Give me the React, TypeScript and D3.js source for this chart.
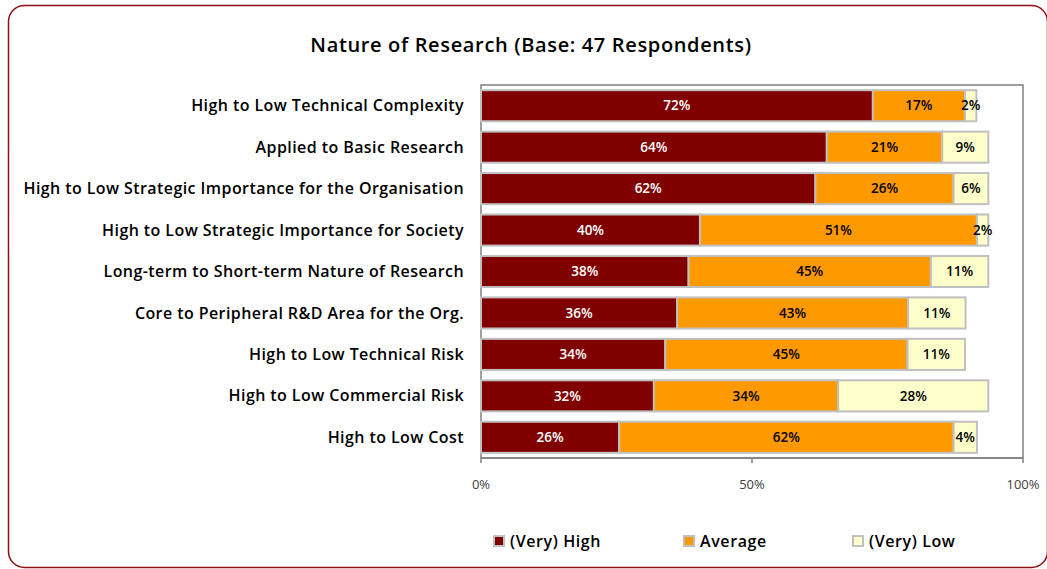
import React from "react";
import * as d3 from "d3";

const categories = [
  "High to Low Technical Complexity",
  "Applied to Basic Research",
  "High to Low Strategic Importance for the Organisation",
  "High to Low Strategic Importance for Society",
  "Long-term to Short-term Nature of Research",
  "Core to Peripheral R&D Area for the Org.",
  "High to Low Technical Risk",
  "High to Low Commercial Risk",
  "High to Low Cost",
];
const veryHigh = [72.3, 63.8, 61.7, 40.4, 38.3, 36.2, 34.0, 31.9, 25.5];
const average = [17.0, 21.3, 25.5, 51.1, 44.7, 42.6, 44.7, 34.0, 61.7];
const veryLow = [2.1, 8.5, 6.4, 2.1, 10.6, 10.6, 10.6, 27.7, 4.3];
const seriesNames = ["(Very) High", "Average", "(Very) Low"];
const tickValues = [0, 50, 100];

const colors = ["#800000", "#ff9900", "#ffffcc"];
const textColors = ["#ffffff", "#000000", "#000000"];
const FONT = "'Open Sans', 'Noto Sans', sans-serif";

export default function App() {
  const W = 1047, H = 569;
  const x0 = 481, x1 = 1023, yTop = 85, yBot = 458;
  const x = d3.scaleLinear().domain([0, 100]).range([x0, x1]);
  const y = d3.scaleBand().domain(categories).range([yTop, yBot]).paddingInner(0.25).paddingOuter(0.125);
  const series = [veryHigh, average, veryLow];
  const stack = d3.stack<number>().keys(["0", "1", "2"]).value((i, k) => series[+k][i]);
  const stacked = stack(categories.map((_, i) => i));

  return (
    <svg width={W} height={H} style={{ position: "absolute", left: 0, top: 0 }}>
      <rect x={0} y={0} width={W} height={H} fill="#fff" />
      <rect x={8.5} y={5.5} width={1039} height={562} rx={16} ry={16} fill="#fff" stroke="#8b1010" strokeWidth={1.5} />
      <text x={531} y={52} textAnchor="middle" fontFamily={FONT} fontWeight={600} fontSize={20} letterSpacing={0.65} fill="#000">
        Nature of Research (Base: 47 Respondents)
      </text>
      {/* plot frame */}
      <rect x={x0} y={yTop} width={x1 - x0} height={yBot - yTop} fill="#fff" stroke="#808080" strokeWidth={1.5} />
      {stacked.map((layer, si) =>
        layer.map((d, i) => {
          const cat = categories[i];
          const bx = x(d[0]);
          const bw = x(d[1]) - x(d[0]);
          const by = y(cat)!;
          return (
            <rect key={`${si}-${i}`} x={bx} y={by} width={bw} height={y.bandwidth()} fill={colors[si]} stroke="#c0c0c0" strokeWidth={2} />
          );
        })
      )}
      {stacked.map((layer, si) =>
        layer.map((d, i) => {
          const cat = categories[i];
          const cx = (x(d[0]) + x(d[1])) / 2;
          const cy = y(cat)! + y.bandwidth() / 2;
          return (
            <text key={`t${si}-${i}`} x={cx} y={cy} dy="0.35em" textAnchor="middle" fontFamily={FONT}
              fontWeight={600} fontSize={13.5} fill={textColors[si]}>
              {Math.round(series[si][i])}%
            </text>
          );
        })
      )}
      {/* category labels */}
      {categories.map((c) => (
        <text key={c} x={464} y={y(c)! + y.bandwidth() / 2} dy="0.35em" textAnchor="end" fontFamily={FONT}
          fontWeight={600} fontSize={16} letterSpacing={0.42} fill="#000">
          {c}
        </text>
      ))}
      {/* x axis */}
      <line x1={x0} x2={x1} y1={yBot} y2={yBot} stroke="#808080" strokeWidth={1.5} />
      {tickValues.map((t) => (
        <g key={t}>
          <line x1={x(t)} x2={x(t)} y1={yBot} y2={yBot + 5} stroke="#808080" strokeWidth={1.5} />
          <text x={x(t)} y={489} textAnchor="middle" fontFamily={FONT} fontSize={13} fill="#404040">
            {t}%
          </text>
        </g>
      ))}
      {/* legend */}
      {seriesNames.map((n, i) => {
        const lx = [493, 683, 852][i];
        return (
          <g key={n}>
            <rect x={lx + 1} y={536} width={10} height={10} fill={colors[i]} stroke="#c0c0c0" strokeWidth={2} />
            <text x={lx + 17} y={547} fontFamily={FONT} fontSize={16} fontWeight={600} letterSpacing={0.6} fill="#000">
              {n}
            </text>
          </g>
        );
      })}
    </svg>
  );
}
